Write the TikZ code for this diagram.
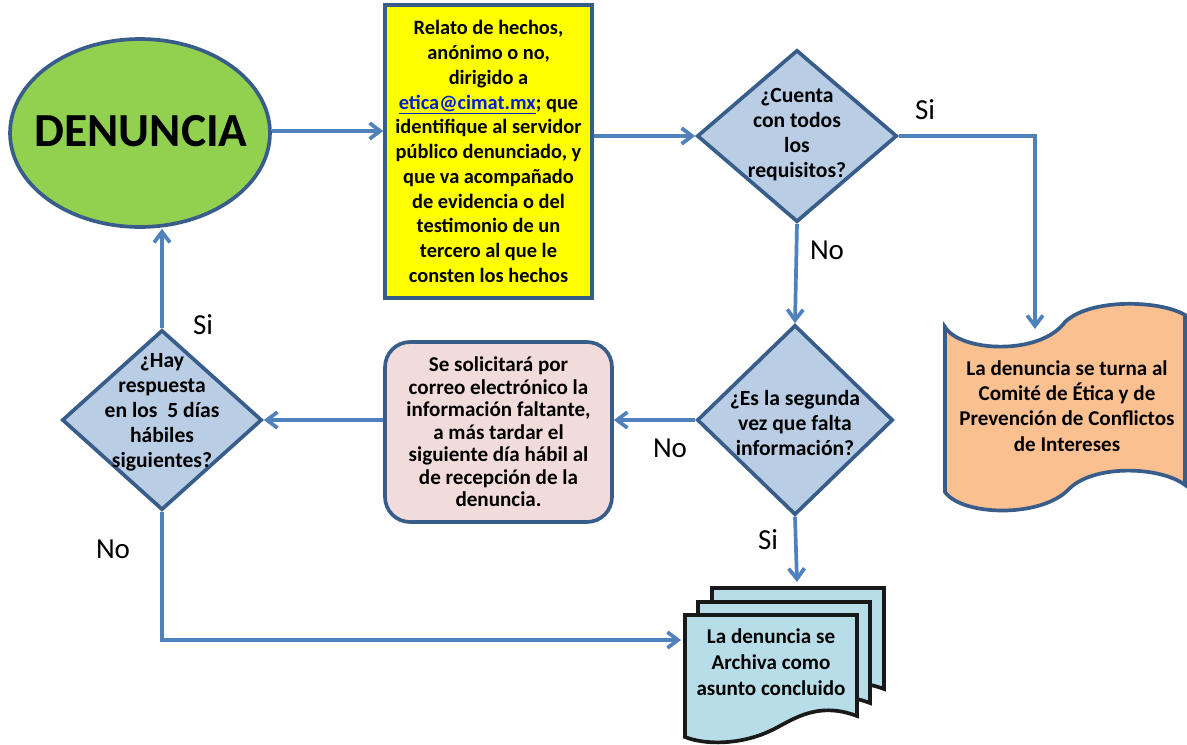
\documentclass[tikz,border=0pt]{standalone}
\usepackage{fontspec}
\setmainfont{Carlito}
\usetikzlibrary{shapes.geometric,arrows.meta}

\definecolor{flecha}{RGB}{79,129,189}
\definecolor{borde}{RGB}{56,93,138}
\definecolor{verde}{RGB}{146,208,80}
\definecolor{amarillo}{RGB}{255,255,0}
\definecolor{rombo}{RGB}{185,205,229}
\definecolor{rosa}{RGB}{242,220,219}
\definecolor{naranja}{RGB}{250,192,144}
\definecolor{archivo}{RGB}{183,222,232}
\definecolor{liga}{RGB}{0,32,210}

\begin{document}
\begin{tikzpicture}[x=0.02cm, y=-0.02cm,
    flujo/.style={draw=flecha, line width=2.1pt, -{Straight Barb[length=6pt,width=9pt]}},
    caja/.style={draw=borde, line width=2.1pt, align=center, inner sep=0pt},
    decision/.style={diamond, draw=borde, fill=rombo, line width=2.1pt, inner sep=0pt},
    texto/.style={align=center, inner sep=0pt, font=\bfseries\fontsize{12.3}{14.2}\selectfont},
    etiq/.style={inner sep=0pt, font=\fontsize{16.5}{18}\selectfont}]
                \useasboundingbox (0, 0) rectangle (1187, 744);
                \fill [white] (0, 0) rectangle (1187, 744);
                % inicio
                \node [ellipse, caja, fill=verde, minimum width=5.2cm, minimum height=3.76cm] (den) at (140, 133) {};
                \node [texto, font=\bfseries\fontsize{27}{30}\selectfont] (dentxt) at (141, 131) {DENUNCIA};
                \node [caja, fill=amarillo, minimum width=4.14cm, minimum height=5.86cm,
                       font=\bfseries\fontsize{11.6}{14.1}\selectfont] (hechos) at (488.5, 151.5)
                       {Relato de hechos,\\ anónimo o no,\\ dirigido a\\
                        \textcolor{liga}{\underline{etica@cimat.mx}}; que\\ identifique al servidor\\
                        público denunciado, y\\ que va acompañado\\ de evidencia o del\\
                        testimonio de un\\ tercero al que le\\ consten los hechos};
                % decisiones
                \node [decision, minimum width=4cm, minimum height=3.44cm] (d1) at (797, 136) {};
                \node [texto] (d1txt) at (797, 135) {¿Cuenta\\ con todos\\ los\\ requisitos?};
                \node [decision, minimum width=3.92cm, minimum height=3.8cm] (d2) at (795, 420) {};
                \node [texto] (d2txt) at (795, 423) {¿Es la segunda\\ vez que falta\\ información?};
                \node [decision, minimum width=4cm, minimum height=3.6cm] (d3) at (162, 420) {};
                \node [texto] (d3txt) at (162, 412) {¿Hay\\ respuesta\\ en los~~5 días\\ hábiles\\ siguientes?};
                \node [caja, fill=rosa, rounded corners=0.5cm, minimum width=4.54cm, minimum height=3.6cm,
                       font=\bfseries\fontsize{12}{12.8}\selectfont] (solicita) at (498.5, 432)
                       {Se solicitará por\\ correo electrónico la\\ información faltante,\\
                        a más tardar el\\ siguiente día hábil al\\ de recepción de la\\ denuncia.};
                % cinta: turno al comite
                \draw [borde, fill=naranja, line width=2.1pt] (945, 327)
                      .. controls (960, 352) and (1040, 356) .. (1065, 322)
                      .. controls (1090, 298) and (1160, 300) .. (1185, 315)
                      -- (1185, 485)
                      .. controls (1160, 466) and (1092, 464) .. (1068, 490)
                      .. controls (1040, 518) and (962, 516) .. (945, 492) -- cycle;
                \node [texto, font=\bfseries\fontsize{12}{14.3}\selectfont] (turno) at (1067, 406)
                      {La denuncia se turna al\\ Comité de Ética y de\\ Prevención de Conflictos\\ de Intereses};
                \coordinate (cintatop) at (1035, 329);
                % documentos archivados
                \foreach \dx in {27, 13, 0}
                    \draw [black!90, fill=archivo, line width=2.1pt, shift={(\dx, -\dx)}] (685, 615) -- (857, 615) -- (857, 716)
                          .. controls (815, 700) and (790, 722) .. (770, 731)
                          .. controls (740, 745) and (705, 745) .. (685, 737) -- cycle;
                \node [texto, font=\bfseries\fontsize{12}{14.7}\selectfont] (archiva) at (771, 662)
                      {La denuncia se\\ Archiva como\\ asunto concluido};
                \coordinate (docizq) at (681, 640);
                \coordinate (docarr) at (797, 582);
                % flechas
                \draw [flujo] (dentxt.east -| den.east) -- (dentxt.east -| hechos.west);
                \draw [flujo] (d1.west -| hechos.east) -- (d1.west);
                \draw [flujo] (d1.east) -- (d1.east -| cintatop) -- (cintatop);
                \draw [flujo] (d1.south) -- (d2.north);
                \draw [flujo] (d2.west) -- (solicita.east |- d2.west);
                \draw [flujo] (d2.south) -- (docarr);
                \draw [flujo] (solicita.west |- d3.east) -- (d3.east);
                \draw [flujo] (d3.north) -- (d3.north |- den.south);
                \draw [flujo] (d3.south) -- (d3.south |- docizq) -- (docizq);
                % etiquetas
                \node [etiq] (si1) at (925, 110) {Si};
                \node [etiq] (no1) at (827, 250) {No};
                \node [etiq] (no2) at (670, 448) {No};
                \node [etiq] (si2) at (768, 540) {Si};
                \node [etiq] (si3) at (203, 325) {Si};
                \node [etiq] (no3) at (113, 549) {No};
\end{tikzpicture}
\end{document}
